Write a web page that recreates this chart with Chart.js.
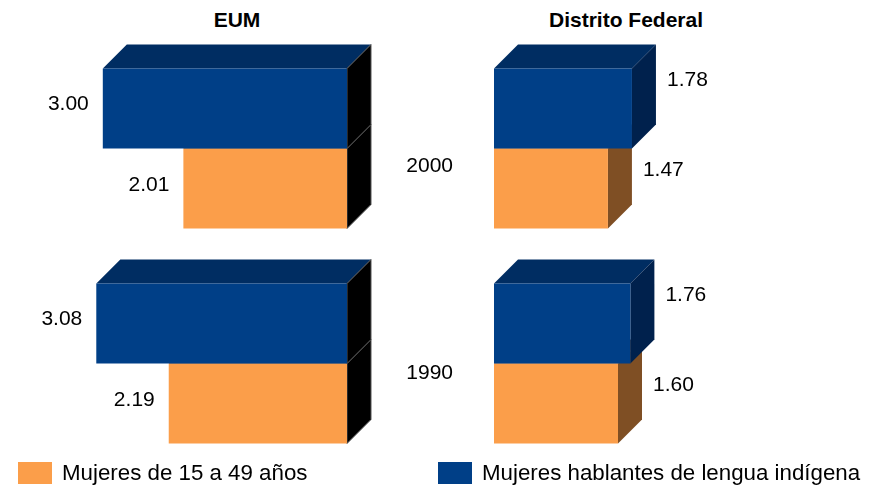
<!DOCTYPE html>
<html>
<head>
<meta charset="utf-8">
<script src="https://cdn.jsdelivr.net/npm/chart.js@4/dist/chart.umd.min.js"></script>
<style>
  body { margin: 0; background: #fff; }
  #wrap { position: relative; width: 885px; height: 487px; font-family: "Liberation Sans", Arial, sans-serif; }
  canvas { position: absolute; top: 0; }
  .title { position: absolute; top: 8px; width: 240px; text-align: center; font-weight: bold; font-size: 21px; line-height: 24px; }
  .sw { position: absolute; top: 462px; width: 34px; height: 22px; }
  .lt { position: absolute; top: 461px; font-size: 22.3px; line-height: 24px; }
</style>
</head>
<body>
<div id="wrap">
  <div class="title" style="left:117px">EUM</div>
  <div class="title" style="left:506px">Distrito Federal</div>
  <canvas id="eumChart" width="400" height="487" style="left:0"></canvas>
  <canvas id="dfChart" width="485" height="487" style="left:400px"></canvas>
  <div class="sw" style="left:18px;background:#FB9E4A"></div>
  <div class="lt" id="lab1" style="left:62px"></div>
  <div class="sw" style="left:438px;background:#003F87"></div>
  <div class="lt" id="lab0" style="left:482px"></div>
</div>
<script>
var years = ['2000', '1990'];
var seriesNames = ['Mujeres hablantes de lengua indígena', 'Mujeres de 15 a 49 años'];
var eumIndigena = [3.00, 3.08];
var eumMujeres = [2.01, 2.19];
var dfIndigena = [1.78, 1.76];
var dfMujeres = [1.47, 1.60];

var blue = '#003F87';
var orange = '#FB9E4A';
var depth = 24;
var font = '21px "Liberation Sans", Arial, sans-serif';

document.getElementById('lab0').textContent = seriesNames[0];
document.getElementById('lab1').textContent = seriesNames[1];

// top and side faces behind the bars, value labels and years on top
var box3d = {
    id: 'box3d',
    beforeDatasetsDraw: function (chart, args, opts) {
        var ctx = chart.ctx;
        ctx.save();
        for (var di = chart.data.datasets.length - 1; di >= 0; di--) {
            chart.getDatasetMeta(di).data.forEach(function (bar) {
                var p = bar.getProps(['x', 'y', 'base', 'height'], true);
                var l = Math.min(p.x, p.base), r = Math.max(p.x, p.base);
                var t = p.y - p.height / 2, b = p.y + p.height / 2;
                ctx.fillStyle = opts.top[di];
                ctx.beginPath();
                ctx.moveTo(l, t); ctx.lineTo(l + depth, t - depth);
                ctx.lineTo(r + depth, t - depth); ctx.lineTo(r, t);
                ctx.closePath(); ctx.fill();
                ctx.fillStyle = opts.side[di];
                ctx.beginPath();
                ctx.moveTo(r, t); ctx.lineTo(r + depth, t - depth);
                ctx.lineTo(r + depth, b - depth); ctx.lineTo(r, b);
                ctx.closePath(); ctx.fill();
                if (opts.stroke) {
                    ctx.strokeStyle = opts.stroke;
                    ctx.lineWidth = 1;
                    ctx.stroke();
                }
            });
        }
        ctx.restore();
    },
    afterDatasetsDraw: function (chart, args, opts) {
        var ctx = chart.ctx;
        ctx.save();
        ctx.font = font;
        ctx.fillStyle = '#000';
        ctx.textBaseline = 'middle';
        chart.data.datasets.forEach(function (ds, di) {
            chart.getDatasetMeta(di).data.forEach(function (bar, i) {
                var p = bar.getProps(['x', 'y', 'base'], true);
                var txt = ds.data[i].toFixed(2);
                if (opts.labelsLeft) {
                    ctx.textAlign = 'right';
                    ctx.fillText(txt, Math.min(p.x, p.base) - 14, p.y + opts.dy[di]);
                } else {
                    ctx.textAlign = 'left';
                    ctx.fillText(txt, Math.max(p.x, p.base) + depth + 11, p.y + opts.dy[di]);
                }
            });
        });
        if (opts.years) {
            var ys = chart.scales.y;
            ctx.textAlign = 'right';
            chart.data.labels.forEach(function (lab, i) {
                ctx.fillText(lab, chart.chartArea.left - 41, ys.getPixelForValue(i) + opts.yearDy[i]);
            });
        }
        ctx.restore();
    }
};

function makeChart(id, indigena, mujeres, xMax, reverse, padding, faces) {
    return new Chart(document.getElementById(id), {
        type: 'bar',
        data: {
            labels: years,
            datasets: [
                { label: seriesNames[0], data: indigena, backgroundColor: blue },
                { label: seriesNames[1], data: mujeres, backgroundColor: orange }
            ]
        },
        options: {
            indexAxis: 'y',
            responsive: false,
            animation: false,
            layout: { padding: padding },
            categoryPercentage: 160 / 215,
            barPercentage: 1,
            scales: {
                x: { display: false, min: 0, max: xMax, reverse: reverse },
                y: { display: false }
            },
            plugins: {
                legend: { display: false },
                tooltip: { enabled: false },
                box3d: faces
            }
        },
        plugins: [box3d]
    });
}

makeChart('eumChart', eumIndigena, eumMujeres, 4, true,
    { left: 21.4, right: 53, top: 41, bottom: 16 },
    { top: ['#002D62', '#000'], side: ['#000', '#000'], stroke: '#555', labelsLeft: true, dy: [-4, -3] });

makeChart('dfChart', dfIndigena, dfMujeres, 2.5, false,
    { left: 94, right: 197.25, top: 41, bottom: 16 },
    { top: ['#002D62', '#7F4F24'], side: ['#00214D', '#7F4F24'], labelsLeft: false, dy: [-28, -18],
      years: true, yearDy: [18, 10] });
</script>
</body>
</html>
